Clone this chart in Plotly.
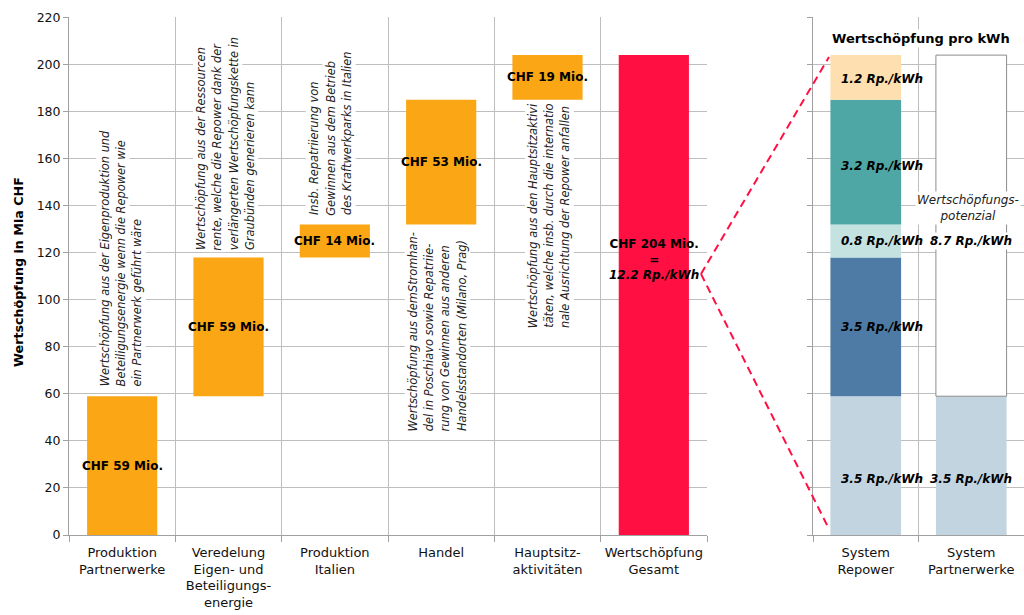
import numpy as np
import plotly.graph_objects as go

# ---------------- data ----------------
categories = [
    "Produktion<br>Partnerwerke",
    "Veredelung<br>Eigen- und<br>Beteiligungs-<br>energie",
    "Produktion<br>Italien",
    "Handel",
    "Hauptsitz-<br>aktivitäten",
    "Wertschöpfung<br>Gesamt",
]
step_values = [59, 59, 14, 53, 19]          # Mio CHF
total_value = 204                           # Mio CHF
step_labels = ["CHF 59 Mio.", "CHF 59 Mio.", "CHF 14 Mio.", "CHF 53 Mio.", "CHF 19 Mio."]
total_label = "CHF 204 Mio.<br>=<br><i>12.2 Rp./kWh</i>"
descriptions = [
    ["Wertschöpfung aus der Eigenproduktion und",
     "Beteiligungsenergie wenn die Repower wie",
     "ein Partnerwerk geführt wäre"],
    ["Wertschöpfung aus der Ressourcen",
     "rente, welche die Repower dank der",
     "verlängerten Wertschöpfungskette in",
     "Graubünden generieren kann"],
    ["Insb. Repatriierung von",
     "Gewinnen aus dem Betrieb",
     "des Kraftwerkparks in Italien"],
    ["Wertschöpfung aus demStromhan-",
     "del in Poschiavo sowie Repatriie-",
     "rung von Gewinnen aus anderen",
     "Handelsstandorten (Milano, Prag)"],
    ["Wertschöpfung aus den Hauptsitzaktivi",
     "täten, welche insb. durch die internatio",
     "nale Ausrichtung der Repower anfallen"],
]
y_ticks = list(range(0, 221, 20))
y_title = "Wertschöpfung in Mia CHF"

system_categories = ["System<br>Repower", "System<br>Partnerwerke"]
repower_rp = [3.5, 3.5, 0.8, 3.2, 1.2]      # Rp./kWh per segment (same order as step_values)
partner_rp = 3.5
potential_rp = 8.7
right_title = "Wertschöpfung pro kWh"
potential_text = "Wertschöpfungs-<br>potenzial"

# ---------------- style / layout constants ----------------
FONT = "DejaVu Sans"
ORANGE = "#FBA614"
RED = "#FF0F42"
SEG_COLORS = ["#C3D4E1", "#4E7BA6", "#C3E2E0", "#4FA7A5", "#FDDFB0"]
GRID = "#BEBEBE"
AXIS = "#A0A0A0"
W, H = 1024, 615

DESC_SIZE = 11.4
LINE_GAP = 16.2
desc_y = [62.4, 120.2, 135, 43.3, 87]
desc_center_shift = [-1, -3, -4, -4, 2]
total_label_y = 117
repower_label_y = [24, 88.5, 125, 157, 194]
partner_label_y = 24
potential_label_y = 125
potential_text_y = 139
right_title_y = 211

# ---------------- derived ----------------
tops = np.cumsum(step_values)
bases = tops - np.array(step_values)

fig = go.Figure()

# left waterfall
fig.add_trace(go.Bar(
    x=categories[:5], y=step_values, base=bases, marker_color=ORANGE,
    width=0.66, xaxis="x", yaxis="y", hoverinfo="skip",
))
fig.add_trace(go.Bar(
    x=[categories[5]], y=[total_value], base=[0], marker_color=RED,
    width=0.66, xaxis="x", yaxis="y", hoverinfo="skip",
))

# right stacked bars
for v, b, c in zip(step_values, bases, SEG_COLORS):
    fig.add_trace(go.Bar(
        x=[system_categories[0]], y=[v], base=[b], marker_color=c,
        width=0.67, xaxis="x2", yaxis="y2", hoverinfo="skip",
    ))
fig.add_trace(go.Bar(
    x=[system_categories[1]], y=[step_values[0]], base=[0], marker_color=SEG_COLORS[0],
    width=0.67, xaxis="x2", yaxis="y2", hoverinfo="skip",
))
fig.add_trace(go.Bar(
    x=[system_categories[1]], y=[total_value - step_values[0]], base=[step_values[0]],
    marker=dict(color="white", line=dict(color="#8C8C8C", width=1)),
    width=0.67, xaxis="x2", yaxis="y2", hoverinfo="skip",
))

ann = []
# rotated descriptions (one annotation per line, bottom aligned)
for cat, lines, yy, xs in zip(categories[:5], descriptions, desc_y, desc_center_shift):
    n = len(lines)
    for i, line in enumerate(lines):
        off = (i - (n - 1) / 2) * LINE_GAP
        ann.append(dict(x=cat, y=yy, xref="x", yref="y", text=f"<i>{line}</i>",
                        textangle=-90, showarrow=False, xanchor="center", yanchor="bottom",
                        xshift=xs + off, bgcolor="white", borderpad=1,
                        font=dict(family=FONT, size=DESC_SIZE, color="#222222")))
# bar labels
for cat, lab, b, v in zip(categories[:5], step_labels, bases, step_values):
    ann.append(dict(x=cat, y=b + v / 2, xref="x", yref="y", text=f"<b>{lab}</b>",
                    showarrow=False, font=dict(family=FONT, size=12, color="black")))
ann.append(dict(x=categories[5], y=total_label_y, xref="x", yref="y",
                text=f"<b>{total_label}</b>", showarrow=False,
                font=dict(family=FONT, size=12, color="black")))
# y-axis title
ann.append(dict(x=18 / W, y=(H - 272) / H, xref="paper", yref="paper",
                xanchor="center", yanchor="middle",
                text=f"<b>{y_title}</b>", textangle=-90, showarrow=False,
                font=dict(family=FONT, size=12.7, color="black")))

# right chart texts
ann.append(dict(x=0.5, y=right_title_y, xref="x2", yref="y2", xshift=2,
                text=f"<b>{right_title}</b>", showarrow=False, bgcolor="white",
                font=dict(family=FONT, size=13, color="black")))
for rp, yy in zip(repower_rp, repower_label_y):
    ann.append(dict(x=system_categories[0], y=yy, xref="x2", yref="y2", xshift=16,
                    text=f"<b><i>{rp} Rp./kWh</i></b>", showarrow=False,
                    font=dict(family=FONT, size=12, color="black")))
ann.append(dict(x=system_categories[1], y=partner_label_y, xref="x2", yref="y2",
                text=f"<b><i>{partner_rp} Rp./kWh</i></b>", showarrow=False,
                font=dict(family=FONT, size=12, color="black")))
ann.append(dict(x=system_categories[1], y=potential_label_y, xref="x2", yref="y2",
                text=f"<b><i>{potential_rp} Rp./kWh</i></b>", showarrow=False,
                bgcolor="white", font=dict(family=FONT, size=12, color="black")))
ann.append(dict(x=system_categories[1], y=potential_text_y, xref="x2", yref="y2", xshift=-3,
                text=f"<i>{potential_text}</i>", showarrow=False, bgcolor="white",
                font=dict(family=FONT, size=12, color="#222222")))

# dashed connector lines (paper coordinates)
apex = (701 / W, (H - 274) / H)
shapes = [
    dict(type="line", xref="paper", yref="paper", x0=apex[0], y0=apex[1],
         x1=829 / W, y1=(H - 57) / H, line=dict(color=RED, width=2, dash="8px,5px")),
    dict(type="line", xref="paper", yref="paper", x0=apex[0], y0=apex[1],
         x1=828 / W, y1=(H - 527) / H, line=dict(color=RED, width=2, dash="8px,5px")),
]

ydom = [(H - 535) / H, (H - 17) / H]
axis_common = dict(showgrid=True, gridcolor=GRID, gridwidth=1, showline=True,
                   linecolor=AXIS, linewidth=1, ticks="outside", tickcolor=AXIS,
                   zeroline=False, automargin=False)

fig.update_layout(
    template="none",
    width=W, height=H,
    margin=dict(l=0, r=0, t=0, b=0),
    paper_bgcolor="white", plot_bgcolor="white",
    showlegend=False, barmode="overlay",
    font=dict(family=FONT, size=13, color="black"),
    xaxis=dict(domain=[69 / W, 707 / W], anchor="y", type="category",
               categoryorder="array", categoryarray=categories,
               range=[-0.5, 5.5], tickson="boundaries", ticklen=6, tickangle=0,
               ticklabelstandoff=5,
               tickfont=dict(family=FONT, size=13, color="#111111"), **axis_common),
    yaxis=dict(domain=ydom, anchor="x", range=[0, 220.2], tickvals=y_ticks,
               ticklen=5, tickfont=dict(family=FONT, size=12.5, color="#111111"),
               **axis_common),
    xaxis2=dict(domain=[813 / W, 1.0], anchor="y2", type="category",
                categoryorder="array", categoryarray=system_categories,
                range=[-0.5, 1.5], tickson="boundaries", ticklen=6, tickangle=0,
                ticklabelstandoff=5,
                tickfont=dict(family=FONT, size=13, color="#111111"), **axis_common),
    yaxis2=dict(domain=ydom, anchor="x2", range=[0, 220.2], tickvals=y_ticks,
                ticklen=5, showticklabels=False, **axis_common),
    annotations=ann,
    shapes=shapes,
)

fig.write_html("out.html")
